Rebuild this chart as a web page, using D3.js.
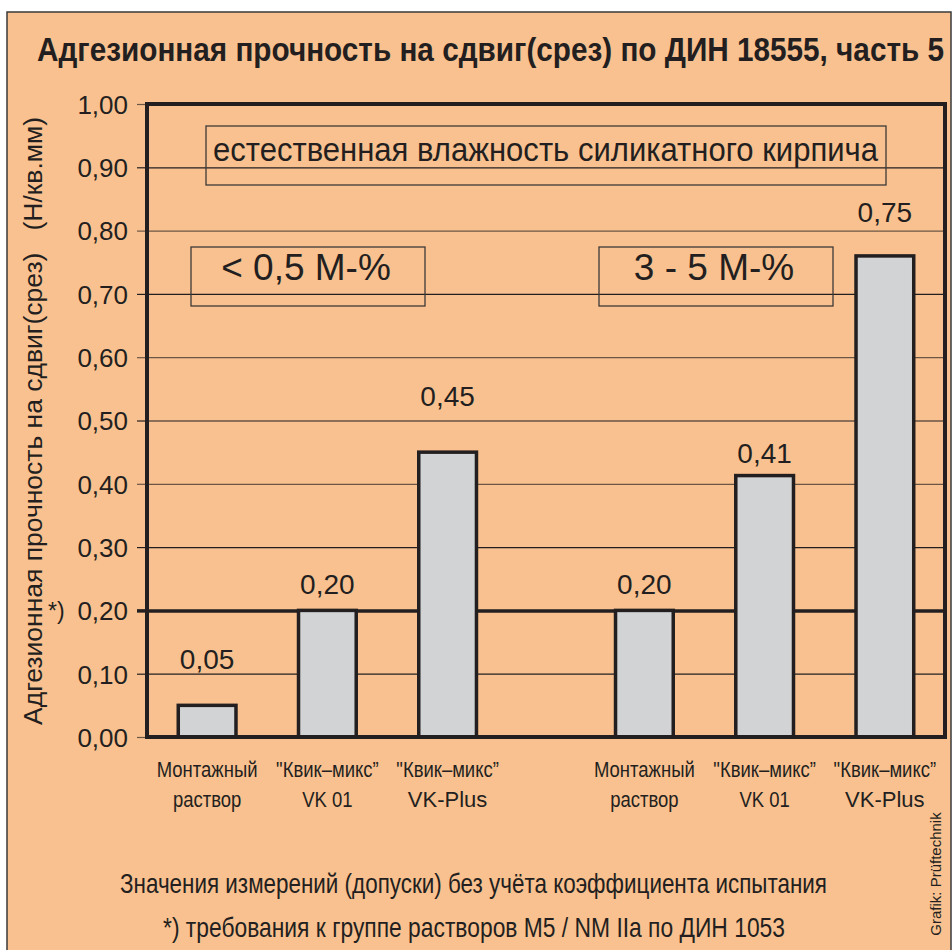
<!DOCTYPE html>
<html>
<head>
<meta charset="utf-8">
<script src="https://cdn.jsdelivr.net/npm/d3@7"></script>
<style>
  body { margin: 0; background: #fff; }
  text { fill: #231f20; }
</style>
</head>
<body>
<div id="wrapper"></div>
<script>
// Adhesion shear strength per DIN 18555 part 5, two moisture groups

const groups = ["< 0,5 M-%", "3 - 5 M-%"]
const products = ["montage", "vk01", "vkplus"]
const productLine1 = ["Монтажный", "\"Квик–микс”", "\"Квик–микс”"]
const productLine2 = ["раствор", "VK 01", "VK-Plus"]

const valuesDry = [0.05, 0.20, 0.45]
const valuesWet = [0.20, 0.413, 0.76]
const labelsDry = ["0,05", "0,20", "0,45"]
const labelsWet = ["0,20", "0,41", "0,75"]
// where the value labels sit, in chart units (baseline)
const labelAtDry = [0.108, 0.226, 0.523]
const labelAtWet = [0.226, 0.433, 0.814]

const yTicks = [0, 0.1, 0.2, 0.3, 0.4, 0.5, 0.6, 0.7, 0.8, 0.9, 1.0]
const requirement = 0.20

const title = "Адгезионная прочность на сдвиг(срез) по ДИН 18555, часть 5"
const yLabel = "Адгезионная прочность на сдвиг(срез)   (Н/кв.мм)"
const boxNote = "естественная влажность силикатного кирпича"
const footLine1 = "Значения измерений (допуски) без учёта коэффициента испытания"
const footLine2 = "*) требования к группе растворов M5 / NM IIa по ДИН 1053"
const credit = "Grafik: Prüftechnik"

const font = "'Liberation Sans', Arial, Helvetica, sans-serif"

// squeeze text horizontally to mimic a condensed face
const condense = (sel, factor) => sel.each(function () {
  const w = this.getComputedTextLength()
  d3.select(this)
    .attr("textLength", w * factor)
    .attr("lengthAdjust", "spacingAndGlyphs")
})

const dimensions = {
  width: 952,
  height: 950,
  margin: { top: 104, right: 7, bottom: 213, left: 147 }
}
dimensions.boundedWidth = dimensions.width - dimensions.margin.left - dimensions.margin.right
dimensions.boundedHeight = dimensions.height - dimensions.margin.top - dimensions.margin.bottom

const svg = d3.select("#wrapper")
  .append("svg")
  .attr("width", dimensions.width)
  .attr("height", dimensions.height)
  .style("font-family", font)

// panel background + border
svg.append("rect")
  .attr("x", 7)
  .attr("y", 12)
  .attr("width", 944)
  .attr("height", 950)
  .attr("fill", "#f9c18f")
  .attr("stroke", "#3a3a3a")
  .attr("stroke-width", 1.5)

svg.append("text")
  .attr("x", 37)
  .attr("y", 61)
  .attr("textLength", 907)
  .attr("lengthAdjust", "spacingAndGlyphs")
  .style("font-weight", "bold")
  .style("font-size", "33px")
  .text(title)

const bounds = svg.append("g")
  .attr("transform", `translate(${dimensions.margin.left}, ${dimensions.margin.top})`)

// scales
const yScale = d3.scaleLinear()
  .domain([0, 1])
  .range([dimensions.boundedHeight, 0])

const groupScale = d3.scaleBand()
  .domain(groups)
  .range([0, dimensions.boundedWidth])
  .paddingInner(0.175)
  .paddingOuter(0)

const xScale = d3.scaleBand()
  .domain(products)
  .range([0, groupScale.bandwidth()])
  .paddingInner(0.52)
  .paddingOuter(0.26)

const isReq = d => Math.abs(d - requirement) < 1e-9
const lineColor = (d, i) => isReq(d) || i % 2 === 1 ? "#231f20" : "#6b5646"

// grid lines
const grid = bounds.append("g")
  .call(d3.axisLeft(yScale).tickValues(yTicks).tickSize(-dimensions.boundedWidth).tickFormat(""))
grid.select(".domain").remove()
grid.selectAll(".tick line")
  .attr("stroke", lineColor)
  .attr("stroke-width", d => isReq(d) ? 3.5 : 1.2)

// y axis ticks + labels
const yAxis = bounds.append("g")
  .call(d3.axisLeft(yScale)
    .tickValues(yTicks)
    .tickSize(10)
    .tickPadding(9)
    .tickFormat(d => d3.format(".2f")(d).replace(".", ",")))
yAxis.select(".domain").remove()
yAxis.selectAll(".tick line")
  .attr("stroke", lineColor)
  .attr("stroke-width", d => isReq(d) ? 3.5 : 1.2)
yAxis.selectAll(".tick text")
  .attr("fill", "#231f20")
  .attr("dy", "0.36em")
  .style("font-family", font)
  .style("font-size", "26px")

bounds.append("text")
  .attr("x", -99)
  .attr("y", yScale(requirement) + 9)
  .style("font-size", "23px")
  .text("*)")

// annotation boxes
bounds.append("rect")
  .attr("x", 59)
  .attr("y", 22)
  .attr("width", 680)
  .attr("height", 59)
  .attr("fill", "none")
  .attr("stroke", "#3d3a38")
  .attr("stroke-width", 1.3)
bounds.append("text")
  .attr("x", 66)
  .attr("y", 57)
  .attr("textLength", 665)
  .attr("lengthAdjust", "spacingAndGlyphs")
  .style("font-size", "33px")
  .text(boxNote)

const boxLeft = [44, 452]
groups.forEach((g, i) => {
  bounds.append("rect")
    .attr("x", boxLeft[i])
    .attr("y", 143)
    .attr("width", 234)
    .attr("height", 59)
    .attr("fill", "none")
    .attr("stroke", "#3d3a38")
    .attr("stroke-width", 1.3)
  bounds.append("text")
    .attr("x", boxLeft[i] + 115)
    .attr("y", 176)
    .attr("text-anchor", "middle")
    .style("font-size", "37px")
    .style("white-space", "pre")
    .text(g)
})

// bars
const series = [
  { group: groups[0], values: valuesDry, labels: labelsDry, labelAt: labelAtDry },
  { group: groups[1], values: valuesWet, labels: labelsWet, labelAt: labelAtWet }
]

series.forEach(s => {
  const g = bounds.append("g")
    .attr("transform", `translate(${groupScale(s.group)}, 0)`)

  const rows = products.map((p, i) => ({
    product: p,
    value: s.values[i],
    label: s.labels[i],
    labelAt: s.labelAt[i],
    line1: productLine1[i],
    line2: productLine2[i]
  }))
  const cx = d => xScale(d.product) + xScale.bandwidth() / 2

  g.selectAll("rect")
    .data(rows)
    .join("rect")
    .attr("x", d => xScale(d.product))
    .attr("y", d => yScale(d.value))
    .attr("width", xScale.bandwidth())
    .attr("height", d => yScale(0) - yScale(d.value))
    .attr("fill", "#d1d3d4")
    .attr("stroke", "#231f20")
    .attr("stroke-width", 3.5)

  g.selectAll(".value")
    .data(rows)
    .join("text")
    .attr("class", "value")
    .attr("x", cx)
    .attr("y", d => yScale(d.labelAt))
    .attr("text-anchor", "middle")
    .style("font-size", "28px")
    .text(d => d.label)

  g.selectAll(".cat1")
    .data(rows)
    .join("text")
    .attr("class", "cat1")
    .attr("x", cx)
    .attr("y", dimensions.boundedHeight + 40)
    .attr("text-anchor", "middle")
    .style("font-size", "22px")
    .text(d => d.line1)
    .call(condense, 0.84)

  g.selectAll(".cat2")
    .data(rows)
    .join("text")
    .attr("class", "cat2")
    .attr("x", cx)
    .attr("y", dimensions.boundedHeight + 70)
    .attr("text-anchor", "middle")
    .style("font-size", "22px")
    .text(d => d.line2)
    .filter(d => d.line2 !== "VK-Plus")
    .call(condense, 0.84)
})

// plot frame
bounds.append("rect")
  .attr("width", dimensions.boundedWidth)
  .attr("height", dimensions.boundedHeight)
  .attr("fill", "none")
  .attr("stroke", "#231f20")
  .attr("stroke-width", 4)

// y axis title
svg.append("text")
  .attr("transform", `translate(42, ${dimensions.margin.top + 317}) rotate(-90)`)
  .attr("text-anchor", "middle")
  .attr("textLength", 608)
  .attr("lengthAdjust", "spacingAndGlyphs")
  .style("white-space", "pre")
  .style("font-size", "26px")
  .text(yLabel)

// footnotes
svg.append("text")
  .attr("x", 120)
  .attr("y", 893)
  .attr("textLength", 707)
  .attr("lengthAdjust", "spacingAndGlyphs")
  .style("font-size", "28px")
  .text(footLine1)

svg.append("text")
  .attr("x", 163)
  .attr("y", 937)
  .attr("textLength", 622)
  .attr("lengthAdjust", "spacingAndGlyphs")
  .style("font-size", "28px")
  .text(footLine2)

svg.append("text")
  .attr("transform", "translate(941, 874) rotate(-90)")
  .attr("text-anchor", "middle")
  .style("font-size", "15px")
  .text(credit)
</script>
</body>
</html>
